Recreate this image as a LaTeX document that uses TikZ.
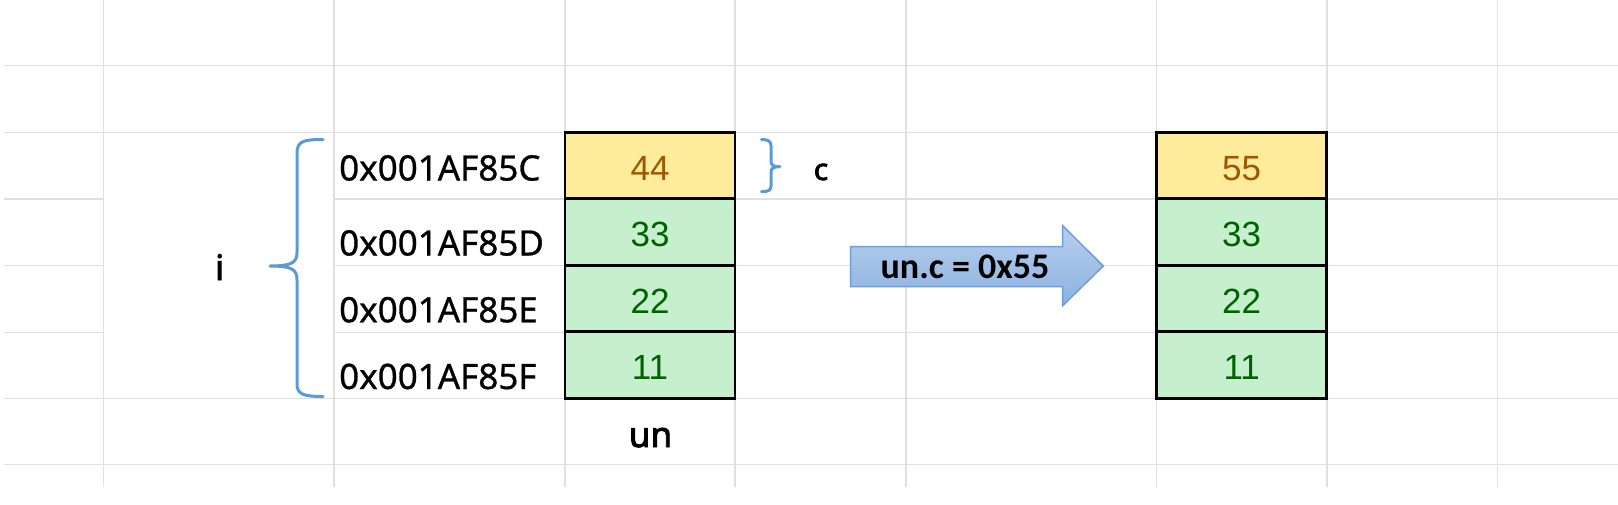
\documentclass[tikz,border=0pt]{standalone}
\usepackage{fontspec}
\newfontfamily\addrfont[FakeBold=0.8]{Noto Sans}
\newfontfamily\lblfont[FakeBold=2.5]{Noto Sans}
\newfontfamily\numfont{Liberation Sans}
\newfontfamily\arrfont{Carlito}
\definecolor{gridc}{RGB}{224,224,224}
\definecolor{neutralfill}{RGB}{255,235,156}
\definecolor{neutraltext}{RGB}{156,87,0}
\definecolor{goodfill}{RGB}{198,239,206}
\definecolor{goodtext}{RGB}{0,97,0}
\definecolor{braceblue}{RGB}{91,155,213}
\definecolor{arrtop}{RGB}{182,206,237}
\definecolor{arrbot}{RGB}{141,178,225}
\definecolor{arredge}{RGB}{112,158,214}
\begin{document}
\begin{tikzpicture}[x=1pt,y=-1pt,
  gridline/.style={draw=gridc, line width=1.3pt},
  cellbox/.style={draw=black, line width=2.6pt, minimum width=170pt, minimum height=66.5pt,
    inner sep=0pt, text height=29pt, text depth=0pt, font=\numfont\fontsize{35}{40}\selectfont},
  hot/.style={cellbox, fill=neutralfill, text=neutraltext},
  good/.style={cellbox, fill=goodfill, text=goodtext},
  addr/.style={anchor=base west, inner sep=0pt, font=\addrfont\fontsize{35}{40}\selectfont},
  lbl/.style={anchor=base, inner sep=0pt, font=\lblfont\fontsize{35}{40}\selectfont},
  bracepath/.style={draw=braceblue, line width=3pt, line cap=round, line join=round},
  arrowbody/.style={top color=arrtop, bottom color=arrbot, draw=arredge, line width=1.5pt},
  arrtext/.style={anchor=base, inner sep=0pt, font=\arrfont\bfseries\fontsize{36}{40}\selectfont}
]
\useasboundingbox (0,0) rectangle (1618,504);
\fill[white] (0,0) rectangle (1618,504);

% spreadsheet grid
\foreach \y in {65.7,132.3,398.3,464.3}
  \draw[gridline] (4,\y) -- (1618,\y);
\foreach \y in {199,265.7,332.3}{
  \draw[gridline] (4,\y) -- (103.3,\y);
  \draw[gridline] (334,\y) -- (1618,\y);
}
\foreach \x in {103.3,334,565,735,906,1156.5,1327,1497.5}
  \draw[gridline] (\x,0) -- (\x,487);

% left memory column
\node[hot]  (m1) at (650,165.5) {44};
\node[good] (m2) at (650,232)   {33};
\node[good] (m3) at (650,298.5) {22};
\node[good] (m4) at (650,365)   {11};

% right memory column
\node[hot]  (n1) at (1241.7,165.5) {55};
\node[good] (n2) at (1241.7,232)   {33};
\node[good] (n3) at (1241.7,298.5) {22};
\node[good] (n4) at (1241.7,365)   {11};

% addresses
\node[addr] (a1) at (339,180.5) {0x001AF85C};
\node[addr] (a2) at (339,255.5) {0x001AF85D};
\node[addr] (a3) at (339,322.3) {0x001AF85E};
\node[addr] (a4) at (339,389)   {0x001AF85F};

% labels
\node[lbl] (li) at (219.7,280) {i};
\node[lbl] (lun) at (650.5,447) {un};
\node[lbl, font=\lblfont\fontsize{30}{34}\selectfont] (lc) at (821,180) {c};

% left brace (i)
\draw[bracepath] (323,139.5) .. controls (304,139.5) and (297,141) .. (297,153)
  -- (297,252) .. controls (297,262) and (293,266) .. (270,266)
  .. controls (293,266) and (297,270) .. (297,280)
  -- (297,384) .. controls (297,394) and (303,396.5) .. (323,396.5);

% right brace (c)
\draw[bracepath] (761.5,139.5) .. controls (768,139.5) and (771,141) .. (771,146)
  -- (771,161) .. controls (771,165) and (773,166.7) .. (780,166.7)
  .. controls (773,166.7) and (771,168.5) .. (771,172)
  -- (771,186) .. controls (771,190.5) and (768,191.7) .. (761.5,191.7);

% block arrow
\path[arrowbody] (850.7,246.7) -- (1062.7,246.7) -- (1062.7,225.7) -- (1103.3,266)
  -- (1062.7,305.7) -- (1062.7,286.7) -- (850.7,286.7) -- cycle;
\node[arrtext] (at) at (965,278.3) {un.c = 0x55};
\end{tikzpicture}
\end{document}
